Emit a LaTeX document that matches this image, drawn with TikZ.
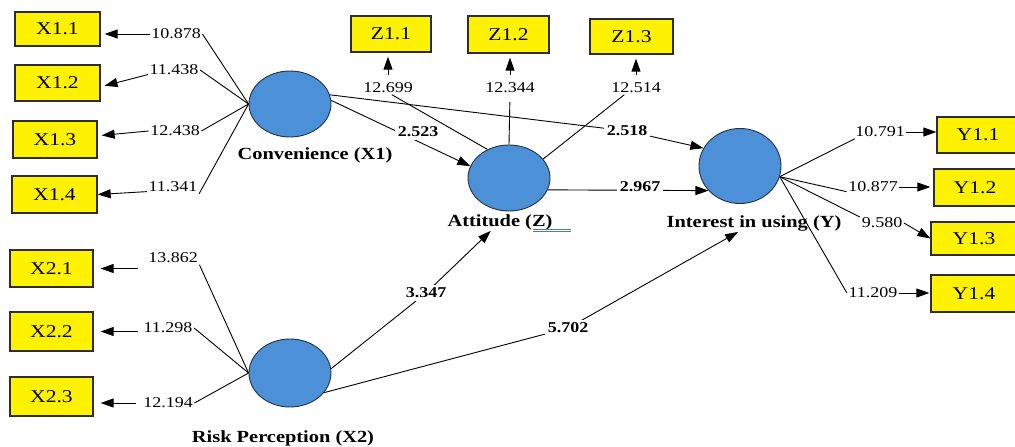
\documentclass[tikz,border=0pt]{standalone}
\usepackage{fontspec}
\setmainfont{Liberation Serif}[FakeStretch=1.2]
\usetikzlibrary{shapes.geometric,arrows.meta,calc}
\definecolor{lvblue}{RGB}{76,144,215}
\definecolor{lvedge}{RGB}{35,50,70}
\definecolor{boxedge}{RGB}{45,45,45}
\definecolor{spellblue}{RGB}{80,115,215}
\pgfdeclarelayer{bg}
\pgfsetlayers{bg,main}
\begin{document}
\begin{tikzpicture}[x=1pt,y=-1pt,
  ind/.style={draw=boxedge,line width=1.3pt,fill=yellow,inner sep=0pt,font=\fontsize{18}{20}\selectfont},
  lat/.style={ellipse,draw=lvedge,line width=0.9pt,fill=lvblue,minimum width=82pt,minimum height=66pt,inner sep=0pt},
  load/.style={font=\fontsize{15}{16}\selectfont,inner sep=1.5pt},
  coef/.style={font={\bfseries\fontsize{15}{16}\selectfont},fill=white,inner sep=2.5pt},
  latname/.style={font={\bfseries\fontsize{17}{18}\selectfont},inner sep=1pt},
  ln/.style={line width=0.9pt,draw=black},
  arr/.style={ln,-{Triangle[length=13pt,width=9pt]}},
]
\useasboundingbox (0,0) rectangle (1015,447);
\clip (0,0) rectangle (1015,447);

% indicator boxes
\node[ind,minimum width=85pt,minimum height=34pt] (x11) at (57.5,29) {X1.1};
\node[ind,minimum width=85pt,minimum height=36pt] (x12) at (57.5,83) {X1.2};
\node[ind,minimum width=84pt,minimum height=37pt] (x13) at (55,139.5) {X1.3};
\node[ind,minimum width=85pt,minimum height=37pt] (x14) at (54.5,194.5) {X1.4};
\node[ind,minimum width=83pt,minimum height=37pt] (x21) at (51.5,268.5) {X2.1};
\node[ind,minimum width=83pt,minimum height=39pt] (x22) at (51.5,331.5) {X2.2};
\node[ind,minimum width=83pt,minimum height=39pt] (x23) at (51.5,396.5) {X2.3};
\node[ind,minimum width=80pt,minimum height=36pt] (z11) at (391,34) {Z1.1};
\node[ind,minimum width=81pt,minimum height=37pt] (z12) at (508.5,34.5) {Z1.2};
\node[ind,minimum width=83pt,minimum height=35pt] (z13) at (631.5,36.5) {Z1.3};
\node[ind,minimum width=82pt,minimum height=36pt] (y11) at (978,135) {Y1.1};
\node[ind,minimum width=82pt,minimum height=37pt] (y12) at (975,187.5) {Y1.2};
\node[ind,minimum width=86pt,minimum height=33pt] (y13) at (974,238.5) {Y1.3};
\node[ind,minimum width=86pt,minimum height=37pt] (y14) at (974,293.5) {Y1.4};

% latent variables
\node[lat] (conv) at (290,104) {};
\node[lat] (att) at (509,178) {};
\node[lat,minimum height=75pt] (int) at (740,166) {};
\node[lat,minimum height=68pt] (risk) at (290,373) {};

\node[latname] (lconv) at (315,155) {Convenience (X1)};
\node[latname] (latt) at (500,222) {Attitude (Z)};
\node[latname] (lint) at (754,223) {Interest in using (Y)};
\node[latname] (lrisk) at (283,438) {Risk Perception (X2)};

% loadings
\node[load] (l11) at (176,34) {10.878};
\node[load] (l12) at (174,70) {11.438};
\node[load] (l13) at (175,131) {12.438};
\node[load] (l14) at (173,187) {11.341};
\node[load] (l21) at (173,258) {13.862};
\node[load] (l22) at (168,328) {11.298};
\node[load] (l23) at (168,403) {12.194};
\node[load] (lz1) at (388,88) {12.699};
\node[load] (lz2) at (510,88) {12.344};
\node[load] (lz3) at (636,88) {12.514};
\node[load] (ly1) at (880,132) {10.791};
\node[load] (ly2) at (873,187) {10.877};
\node[load] (ly3) at (882,223) {9.580};
\node[load] (ly4) at (873,293) {11.209};

% path coefficients
\node[coef] (c1) at (418,132) {2.523};
\node[coef] (c2) at (627,131) {2.518};
\node[coef] (c3) at (640,187) {2.967};
\node[coef] (c4) at (426,293) {3.347};
\node[coef] (c5) at (568,328) {5.702};

\begin{pgfonlayer}{bg}
% X1 loadings
\draw[ln] (conv.west) -- (l11.east);
\draw[ln] (conv.west) -- (l12.east);
\draw[ln] (conv.west) -- (l13.east);
\draw[ln] (conv.west) -- (l14.south east);
\draw[arr,shorten >=4pt] (l11.west) -- (x11.east |- l11.west);
\draw[arr,shorten >=4pt] (l12.-170) -- (x12.-5);
\draw[arr,shorten >=4pt] (l13.west) -- (x13.5);
\draw[arr] (l14.-170) -- (x14.east);
% X2 loadings
\draw[ln] (risk.west) -- (l21.south east);
\draw[ln] (risk.west) -- (l22.east);
\draw[ln] (risk.west) -- (l23.east);
\draw[arr,shorten >=7pt] ([xshift=44pt]x21.east) -- (x21.east);
\draw[arr,shorten >=7pt] ([xshift=44pt]x22.east) -- (x22.east);
\draw[arr,shorten <=6pt,shorten >=7pt] (l23.west) -- (x23.east |- l23.west);
% Z loadings
\draw[ln] (att.127) -- (lz1.-60);
\draw[ln,shorten >=7pt] (att.north) -- (lz2.south);
\draw[ln] (att.29) -- (lz3.-150);
\draw[arr,shorten <=6pt,shorten >=4pt] (lz1.north) -- (lz1.north |- z11.south);
\draw[arr,shorten <=6pt,shorten >=4pt] (lz2.north) -- (lz2.north |- z12.south);
\draw[arr,shorten <=6pt,shorten >=4pt] (lz3.north) -- (lz3.north |- z13.south);
% Y loadings
\draw[ln] (int.-15) -- (ly1.-165);
\draw[ln] (int.-15) -- (ly2.-170);
\draw[ln] (int.-15) -- (ly3.165);
\draw[ln] (int.-15) -- (ly4.west);
\draw[arr] (ly1.east) -- (y11.west |- ly1.east);
\draw[arr,shorten >=3pt] (ly2.east) -- (y12.west |- ly2.east);
\draw[arr] (ly3.east) -- (y13.west);
\draw[arr,shorten >=1pt] (ly4.east) -- (y14.west |- ly4.east);
% structural paths
\draw[arr] (conv.5) -- (att.163);
\draw[arr] (conv.13) -- (c2.center) -- (int.154);
\draw[arr] (att.-17) -- (int.-142);
\draw[arr] (risk.6) -- (c4.center) -- (latt);
\draw[arr] (risk.-30) -- (c5.center) -- (lint);
\end{pgfonlayer}

% spelling underline
\draw[spellblue,line width=0.6pt] ($(latt.east)+(-21,7)$) -- ++(38,0);
\draw[spellblue,line width=0.6pt] ($(latt.east)+(-21,9.5)$) -- ++(38,0);
\end{tikzpicture}
\end{document}
